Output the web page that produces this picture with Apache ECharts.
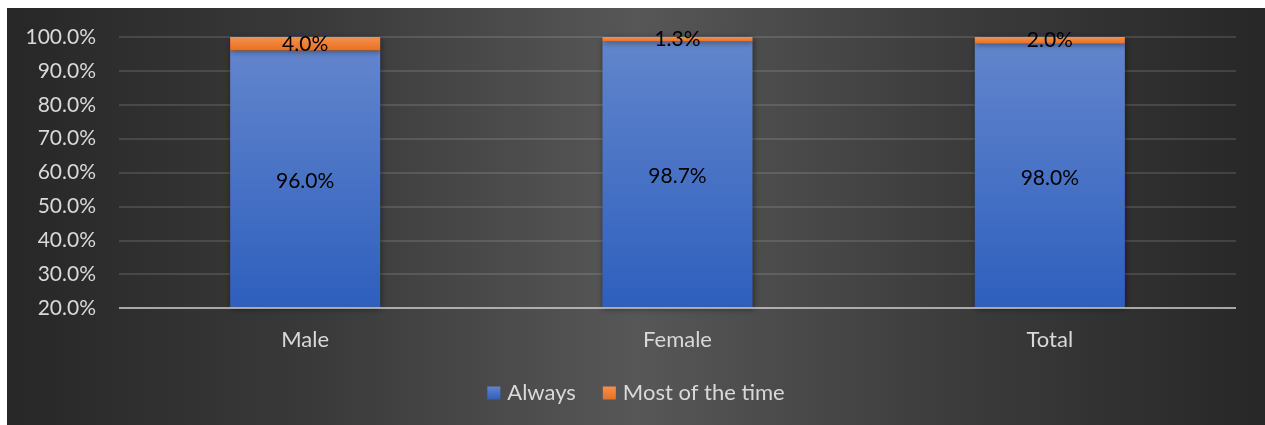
<!DOCTYPE html>
<html>
<head>
<meta charset="utf-8">
<script src="https://cdn.jsdelivr.net/npm/echarts@6/dist/echarts.min.js"></script>
<style>
  html, body { margin: 0; padding: 0; background: #ffffff; }
  #chart { position: absolute; left: 7px; top: 8px; width: 1258px; height: 417px; }
</style>
</head>
<body>
<div id="chart"></div>
<script>
// Share of respondents by gender
const categories = ['Male', 'Female', 'Total'];
const seriesNames = ['Always', 'Most of the time'];
const always = [96.0, 98.7, 98.0];
const mostOfTheTime = [4.0, 1.3, 2.0];
const yTicks = [20, 30, 40, 50, 60, 70, 80, 90, 100];

const FONT = 'Lato';
const chart = echarts.init(document.getElementById('chart'), null, { renderer: 'canvas' });

function pct(v) { return v.toFixed(1) + '%'; }

const barShadow = { shadowBlur: 6, shadowColor: 'rgba(0,0,0,0.45)', shadowOffsetX: 1, shadowOffsetY: 1 };

chart.setOption({
  backgroundColor: {
    type: 'linear', x: 0, y: 0, x2: 1, y2: 0,
    colorStops: [
      { offset: 0, color: '#272727' },
      { offset: 0.25, color: '#3a3a3a' },
      { offset: 0.5, color: '#575757' },
      { offset: 0.75, color: '#3c3c3c' },
      { offset: 1, color: '#272727' }
    ]
  },
  animation: false,
  textStyle: { fontFamily: FONT },
  legend: {
    data: seriesNames,
    bottom: 16,
    left: 'center',
    itemWidth: 13,
    itemHeight: 13,
    itemGap: 27,
    icon: 'rect',
    textStyle: { color: '#d9d9d9', fontSize: 22, fontFamily: FONT, padding: [0, 0, 0, 2] }
  },
  grid: { left: 112, right: 29, top: 29, bottom: 117, containLabel: false },
  xAxis: {
    type: 'category',
    data: categories,
    axisTick: { show: false },
    axisLine: { show: false },
    axisLabel: { color: '#d9d9d9', fontSize: 22, fontFamily: FONT, margin: 21 }
  },
  yAxis: {
    type: 'value',
    min: yTicks[0],
    max: yTicks[yTicks.length - 1],
    interval: 10,
    startValue: yTicks[0],
    axisLine: { show: false },
    axisTick: { show: false },
    splitLine: { lineStyle: { color: 'rgba(255,255,255,0.12)', width: 2 } },
    axisLabel: {
      color: '#d9d9d9', fontSize: 21, fontFamily: FONT, margin: 23,
      formatter: v => pct(v)
    }
  },
  series: [
    {
      name: seriesNames[0],
      type: 'bar',
      stack: 'share',
      barWidth: '40.3%',
      data: always,
      itemStyle: Object.assign({
        color: {
          type: 'linear', x: 0, y: 0, x2: 0, y2: 1,
          colorStops: [
            { offset: 0, color: '#6285cc' },
            { offset: 1, color: '#2e5fbd' }
          ]
        }
      }, barShadow),
      label: {
        show: true, position: 'inside', color: '#000000',
        fontSize: 21, fontFamily: FONT, offset: [0, 2],
        formatter: p => pct(p.value)
      }
    },
    {
      name: seriesNames[1],
      type: 'bar',
      stack: 'share',
      data: mostOfTheTime,
      itemStyle: Object.assign({
        color: {
          type: 'linear', x: 0, y: 0, x2: 0, y2: 1,
          colorStops: [
            { offset: 0, color: '#f6904d' },
            { offset: 1, color: '#e8701f' }
          ]
        }
      }, barShadow),
      label: {
        show: true, position: 'inside', color: '#000000',
        fontSize: 21, fontFamily: FONT,
        formatter: p => pct(p.value)
      },
      markLine: {
        silent: true,
        symbol: 'none',
        label: { show: false },
        lineStyle: { color: 'rgba(200,200,200,0.75)', width: 2, type: 'solid' },
        data: [{ yAxis: yTicks[0] }]
      }
    }
  ]
});
</script>
</body>
</html>
